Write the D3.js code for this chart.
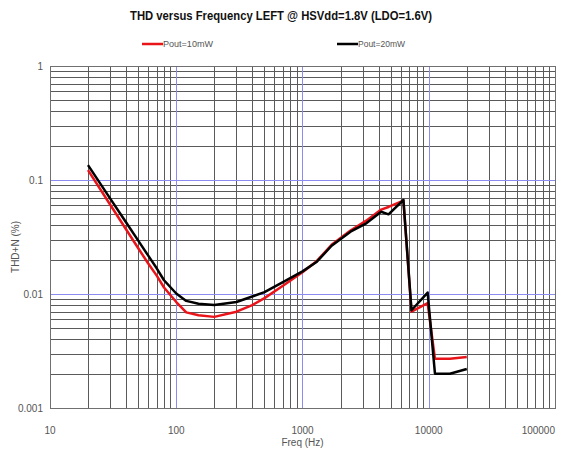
<!DOCTYPE html>
<html><head><meta charset="utf-8">
<script src="https://cdn.jsdelivr.net/npm/d3@7"></script>
<style>body{margin:0;background:#fff}svg{display:block}</style>
</head><body>
<script>
const title = "THD versus Frequency LEFT @ HSVdd=1.8V (LDO=1.6V)";
const freqs = [20,30,40,50,60,70,80,100,120,150,200,300,400,500,700,1000,1300,1700,2400,3200,4200,4800,6300,7300,9800,11200,14700,20000];
const pout10 = [0.122,0.0607,0.037,0.0252,0.0185,0.0145,0.0114,0.0085,0.0069,0.0065,0.0063,0.0070,0.0080,0.0092,0.0118,0.0155,0.0195,0.027,0.036,0.044,0.055,0.058,0.066,0.0070,0.0083,0.0027,0.0027,0.0028];
const pout20 = [0.135,0.0687,0.0426,0.0294,0.0217,0.0168,0.0132,0.0101,0.0087,0.0082,0.0080,0.0085,0.0095,0.0104,0.0127,0.0158,0.0192,0.0265,0.0352,0.0417,0.0527,0.050,0.0668,0.0072,0.0103,0.0020,0.0020,0.0022];
const xTicks = [10,100,1000,10000,100000];
const yTicks = [1,0.1,0.01,0.001];
const seriesNames = ["Pout=10mW","Pout=20mW"];
const seriesColors = ["#e8141a","#000000"];

const W=570,H=452, L=50,R=555,T=66,B=408;
const svg=d3.select("body").append("svg").attr("width",W).attr("height",H);
const x=d3.scaleLog().domain([10,100000]).range([L,R]);
const y=d3.scaleLog().domain([0.001,1]).range([B,T]);

// grid
const g=svg.append("g");
const minorX=[], minorY=[];
for(let d=10; d<100000; d*=10) for(let m=2;m<=9;m++) minorX.push(d*m);
for(let d=0.001; d<0.999; d*=10) for(let m=2;m<=9;m++) minorY.push(d*m);
g.selectAll(".mx").data(minorX).enter().append("line")
 .attr("x1",d=>Math.round(x(d))+0.5).attr("x2",d=>Math.round(x(d))+0.5).attr("y1",T).attr("y2",B)
 .attr("stroke","#5a5a5a").attr("stroke-width",1);
g.selectAll(".my").data(minorY).enter().append("line")
 .attr("y1",d=>Math.round(y(d))+0.5).attr("y2",d=>Math.round(y(d))+0.5).attr("x1",L).attr("x2",R)
 .attr("stroke","#5a5a5a").attr("stroke-width",1);
g.selectAll(".dx").data(xTicks.slice(1,-1)).enter().append("line")
 .attr("x1",d=>Math.round(x(d))+0.5).attr("x2",d=>Math.round(x(d))+0.5).attr("y1",T).attr("y2",B)
 .attr("stroke","#8c8cf0").attr("stroke-width",1);
g.selectAll(".dy").data(yTicks.slice(1,-1)).enter().append("line")
 .attr("y1",d=>Math.round(y(d))+0.5).attr("y2",d=>Math.round(y(d))+0.5).attr("x1",L).attr("x2",R)
 .attr("stroke","#8c8cf0").attr("stroke-width",1);
// border
svg.append("rect").attr("x",L+0.5).attr("y",T+0.5).attr("width",R-L).attr("height",B-T)
 .attr("fill","none").attr("stroke","#707070").attr("stroke-width",1);

// axes labels
svg.selectAll(".yt").data(yTicks).enter().append("text")
 .attr("x",L-7).attr("y",d=>y(d)+4).attr("text-anchor","end")
 .attr("font-family","Liberation Sans, Arial, sans-serif").attr("font-size",10).attr("fill","#555")
 .text(d=>String(d));
svg.selectAll(".xt").data(xTicks).enter().append("text")
 .attr("x",(d,i)=>i===xTicks.length-1?Math.min(x(d),W-2):x(d)).attr("y",B+26)
 .attr("text-anchor",(d,i)=>i===xTicks.length-1?"end":"middle")
 .attr("font-family","Liberation Sans, Arial, sans-serif").attr("font-size",10).attr("fill","#555")
 .text(d=>String(d));
svg.append("text").attr("x",x(1000)).attr("y",B+38).attr("text-anchor","middle")
 .attr("font-family","Liberation Sans, Arial, sans-serif").attr("font-size",10).attr("fill","#555").text("Freq (Hz)");
svg.append("text").attr("transform",`translate(19,${(T+B)/2+10}) rotate(-90)`).attr("text-anchor","middle")
 .attr("font-family","Liberation Sans, Arial, sans-serif").attr("font-size",10).attr("fill","#555").text("THD+N (%)");

// title
svg.append("text").attr("x",281).attr("y",20).attr("text-anchor","middle")
 .attr("font-family","Liberation Sans, Arial, sans-serif").attr("font-weight","bold").attr("font-size",12.5)
 .attr("textLength",302).attr("lengthAdjust","spacingAndGlyphs").attr("fill","#111").text(title);

// legend
const legX=[142,337];
seriesNames.forEach((n,i)=>{
  svg.append("line").attr("x1",legX[i]).attr("x2",legX[i]+21).attr("y1",44).attr("y2",44)
   .attr("stroke",seriesColors[i]).attr("stroke-width",2.5);
  svg.append("text").attr("x",legX[i]+21).attr("y",47).attr("font-family","Liberation Sans, Arial, sans-serif")
   .attr("font-size",9).attr("fill","#555").attr("textLength",i?47:50).attr("lengthAdjust","spacingAndGlyphs").text(n);
});

// lines
const line=d3.line().x(d=>x(d[0])).y(d=>y(d[1]));
[pout10,pout20].forEach((vals,i)=>{
  svg.append("path").datum(freqs.map((f,j)=>[f,vals[j]])).attr("d",line)
   .attr("fill","none").attr("stroke",seriesColors[i]).attr("stroke-width",2.5).attr("stroke-linejoin","round");
});
</script>
</body></html>
